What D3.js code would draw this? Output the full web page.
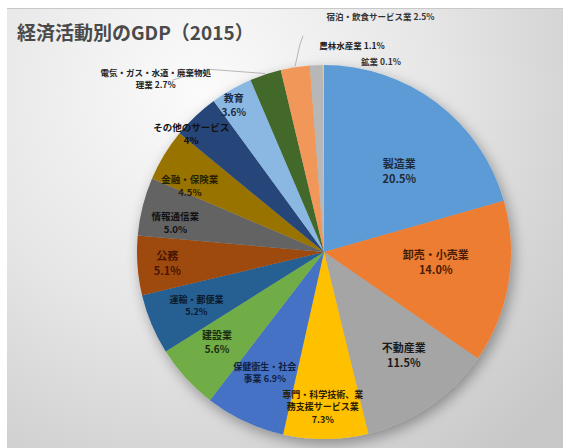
<!DOCTYPE html>
<html><head><meta charset="utf-8">
<script src="https://cdn.jsdelivr.net/npm/d3@7"></script>
<style>
html,body{margin:0;padding:0;background:#fff;}
svg{display:block;}
text{font-family:"Noto Sans CJK JP","Noto Sans",sans-serif;}
</style></head>
<body>
<script>
// ---- data ----
const categories = ["製造業","卸売・小売業","不動産業","専門・科学技術、業務支援サービス業","保健衛生・社会事業","建設業","運輸・郵便業","公務","情報通信業","金融・保険業","その他のサービス","教育","電気・ガス・水道・廃棄物処理業","宿泊・飲食サービス業","農林水産業","鉱業"];
const shares = [20.5,14.0,11.5,7.3,6.9,5.6,5.2,5.1,5.0,4.5,4,3.6,2.7,2.5,1.1,0.1];
const shareLabels = ["20.5%","14.0%","11.5%","7.3%","6.9%","5.6%","5.2%","5.1%","5.0%","4.5%","4%","3.6%","2.7%","2.5%","1.1%","0.1%"];
const title = "経済活動別のGDP（2015）";

// ---- style / layout ----
const colors = ["#5B9BD5","#ED7D31","#A5A5A5","#FFC000","#4472C4","#70AD47","#255E91","#9E480E","#636363","#997300","#264478","#8AB8E3","#43682B","#F1975A","#B7B7B7","#FFCD33"];
// label lines (how each category label wraps)
const labelLines = [
  ["製造業","20.5%"],["卸売・小売業","14.0%"],["不動産業","11.5%"],
  ["専門・科学技術、業","務支援サービス業","7.3%"],["保健衛生・社会","事業 6.9%"],
  ["建設業","5.6%"],["運輸・郵便業","5.2%"],["公務","5.1%"],["情報通信業","5.0%"],
  ["金融・保険業","4.5%"],["その他のサービス","4%"],["教育","3.6%"],
  ["電気・ガス・水道・廃棄物処","理業 2.7%"],["宿泊・飲食サービス業 2.5%"],["農林水産業 1.1%"],["鉱業 0.1%"]
];
// label placement: angle nudge (deg) and radius fraction
const labelDA = [6,-4,-3,1,1,2,0,0,-3,-5,-5,-2,-26,22.4,10.1,16.9];
const labelR  = [0.59,0.60,0.70,0.83,0.72,0.75,0.74,0.84,0.81,0.80,0.95,0.92,1.29,1.29,1.11,1.06];
const labelFS = [11,11,11,9,9,10,9,11,9.5,9.5,9.5,10,8.5,8.5,8.5,8.5];
const labelFill = ["#1f2a3a","#4a1c05","#1a1a1a","#2a2000","#0f1f40","#1a2a10","#0a1a30","#4a1400","#111","#2a1f00","#111","#1a2a40","#222","#333","#222","#333"];

const W=563,H=448;
const cx=324, cy=252, R=187;

const svg=d3.select("body").append("svg").attr("width",W).attr("height",H);
const defs=svg.append("defs");
const bg=defs.append("radialGradient").attr("id","bg").attr("gradientUnits","userSpaceOnUse")
  .attr("cx",200).attr("cy",90).attr("r",470);
bg.append("stop").attr("offset","0").attr("stop-color","#fbfbfb");
bg.append("stop").attr("offset","0.5").attr("stop-color","#e6e6e6");
bg.append("stop").attr("offset","1").attr("stop-color","#c8c8c8");
const f=defs.append("filter").attr("id","sh").attr("x","-20%").attr("y","-20%").attr("width","140%").attr("height","140%");
f.append("feGaussianBlur").attr("in","SourceAlpha").attr("stdDeviation",7).attr("result","b");
f.append("feOffset").attr("in","b").attr("dx",3).attr("dy",5).attr("result","o");
f.append("feComponentTransfer").attr("in","o").attr("result","o2")
  .append("feFuncA").attr("type","linear").attr("slope",0.35);
const m=f.append("feMerge"); m.append("feMergeNode").attr("in","o2"); m.append("feMergeNode").attr("in","SourceGraphic");

svg.append("rect").attr("x",7).attr("y",8).attr("width",W-7).attr("height",H-8).attr("fill","url(#bg)");
svg.append("line").attr("x1",7).attr("x2",W).attr("y1",8.5).attr("y2",8.5).attr("stroke","#c8c8c8");

svg.append("text").attr("x",17).attr("y",40).attr("font-size",19).attr("font-weight","bold")
  .attr("fill","#4a4a4a").text(title);

const data = categories.map((c,i)=>({c,v:shares[i],i}));
const pie=d3.pie().value(d=>d.v).sort(null);
const arcs=pie(data);
const arc=d3.arc().innerRadius(0).outerRadius(R);

const g=svg.append("g").attr("transform",`translate(${cx},${cy})`);
g.append("g").attr("filter","url(#sh)").selectAll("path").data(arcs).join("path")
  .attr("d",arc).attr("fill",d=>colors[d.data.i]);

// leader lines for outside labels (electric, lodging)
function polar(a,r){return [Math.sin(a)*r,-Math.cos(a)*r];}
const mid=d=>(d.startAngle+d.endAngle)/2;
const el=arcs[12], lo=arcs[13];
const e1=polar(mid(el),R*1.005), e2=polar(mid(el)+labelDA[12]*Math.PI/180*0.55,R*1.16);
g.append("path").attr("d",`M${e1[0]},${e1[1]}L${e2[0]},${e2[1]}L${e2[0]-35},${e2[1]+11}`)
  .attr("fill","none").attr("stroke","#a6a6a6").attr("stroke-width",0.8);
const l1=polar(mid(lo),R*1.005), l2=polar(mid(lo)+0.04,R*1.12);
g.append("path").attr("d",`M${l1[0]},${l1[1]}L${l2[0]},${l2[1]}L${l2[0]+3},${l2[1]-8}`)
  .attr("fill","none").attr("stroke","#a6a6a6").attr("stroke-width",0.8);

// labels
arcs.forEach(d=>{
  const i=d.data.i;
  const a=mid(d)+labelDA[i]*Math.PI/180;
  const [x,y]=polar(a,R*labelR[i]);
  const lines=labelLines[i], fs=labelFS[i], lh=fs*1.35;
  const t=g.append("text").attr("text-anchor","middle").attr("font-size",fs)
    .attr("font-weight","bold").attr("fill",labelFill[i]);
  lines.forEach((s,k)=>{
    t.append("tspan").attr("x",x).attr("y",y+(k-(lines.length-1)/2)*lh+fs*0.35).text(s);
  });
});
</script>
</body></html>
